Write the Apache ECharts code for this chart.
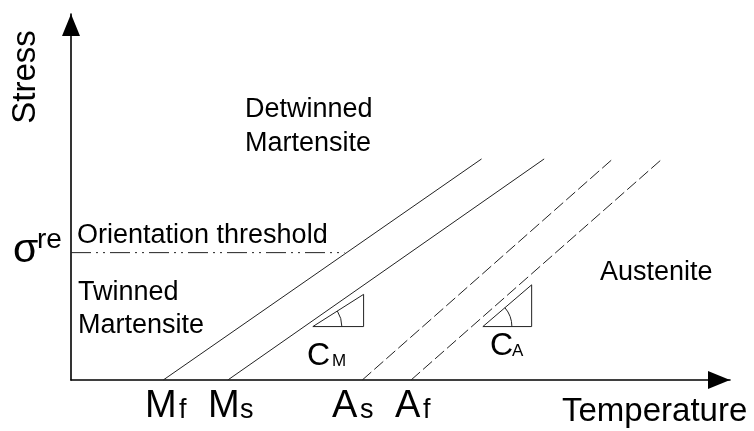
<!DOCTYPE html>
<html><head><meta charset="utf-8">
<script src="https://cdn.jsdelivr.net/npm/echarts@6/dist/echarts.min.js"></script>
<style>html,body{margin:0;padding:0;background:#fff}#c{width:754px;height:431px}</style>
</head><body><div id="c"></div>
<script>
// ---- data (arbitrary temperature / stress units, axes 0..100) ----
const mfLine = [[14.0, 0], [62.3, 60.4]];
const msLine = [[23.8, 0], [71.8, 60.4]];
const asLine = [[44.2, 0], [82.2, 60.4]];
const afLine = [[51.6, 0], [89.7, 60.4]];
const thresholdLine = [[0, 34.8], [41.5, 34.8]];
// slope triangles: [left vertex, top-right vertex]
const cmTriangle = [[36.7, 14.6], [44.4, 23.4]];
const caTriangle = [[62.5, 14.6], [69.9, 26.0]];
const tickMain = ['M', 'M', 'A', 'A'];
const tickSub = ['f', 's', 's', 'f'];

const chart = echarts.init(document.getElementById('c'), null, {renderer: 'canvas'});
const FONT = '"Liberation Sans", Arial, sans-serif';
const INK = '#000';
const LINE = '#222';

function txt(s, left, base, size, extra) {
  return Object.assign({
    type: 'text', x: left, y: base - 0.3465 * size, z: 100, silent: true,
    style: {text: s, font: size + 'px ' + FONT, fill: INK, align: 'left', verticalAlign: 'middle'}
  }, extra || {});
}
function phase(data, type) {
  return {type: 'line', data: data, symbol: 'none', silent: true, animation: false,
    lineStyle: {color: LINE, width: 1, type: type}};
}
const axisCommon = {
  type: 'value', min: 0, max: 100,
  axisLine: {show: true, symbol: ['none', 'triangle'], symbolSize: [18, 22], symbolOffset: [0, -11],
    lineStyle: {color: INK, width: 1.6}},
  axisTick: {show: false}, axisLabel: {show: false}, splitLine: {show: false}
};

// tick label positions (left edge of main letter, left edge of subscript)
const tickPos = [[145, 179], [208, 240], [332, 360], [395, 423]];
const graphics = [
  txt('Stress', 0, 0, 33, {x: 25.5, y: 77, rotation: Math.PI / 2,
    style: {text: 'Stress', font: '33px ' + FONT, fill: INK, align: 'center', verticalAlign: 'middle'}}),
  txt('Temperature', 562, 423, 33),
  txt('Detwinned', 245, 119, 27),
  txt('Martensite', 245, 153, 27),
  txt('Orientation threshold', 77, 245, 27),
  txt('Twinned', 78, 302, 27),
  txt('Martensite', 78, 335, 27),
  txt('Austenite', 600, 282, 27),
  txt('σ', 13, 265, 41),
  txt('re', 37, 250, 28),
  txt('C', 307, 367, 32), txt('M', 332, 367, 17),
  txt('C', 490, 357, 32), txt('A', 512, 357, 17)
];
tickMain.forEach((m, i) => {
  graphics.push(txt(m, tickPos[i][0], 420, 38));
  graphics.push(txt(tickSub[i], tickPos[i][1], 420, 27));
});

const option = {
  animation: false,
  backgroundColor: '#fff',
  grid: {left: 71, right: 24, top: 14, bottom: 51},
  xAxis: axisCommon,
  yAxis: axisCommon,
  series: [
    phase(mfLine, 'solid'),
    phase(msLine, 'solid'),
    phase(asLine, [12, 4]),
    phase(afLine, [12, 4]),
    phase(thresholdLine, [20, 5, 2, 5, 2, 5]),
    {
      type: 'custom', silent: true, animation: false,
      data: [cmTriangle, caTriangle].map(t => [t[0][0], t[0][1], t[1][0], t[1][1]]),
      encode: {x: [0, 2], y: [1, 3]},
      renderItem: function (params, api) {
        const p0 = api.coord([api.value(0), api.value(1)]);
        const p1 = api.coord([api.value(2), api.value(3)]);
        const p2 = api.coord([api.value(2), api.value(1)]);
        const th = Math.atan2(p0[1] - p1[1], p1[0] - p0[0]);
        return {type: 'group', children: [
          {type: 'polygon', shape: {points: [p0, p1, p2]}, style: {fill: 'none', stroke: LINE, lineWidth: 1}},
          {type: 'arc', shape: {cx: p0[0], cy: p0[1], r: 29, startAngle: -th, endAngle: 0, clockwise: true},
            style: {fill: 'none', stroke: LINE, lineWidth: 1}}
        ]};
      }
    }
  ],
  graphic: graphics
};
chart.setOption(option);
</script></body></html>
